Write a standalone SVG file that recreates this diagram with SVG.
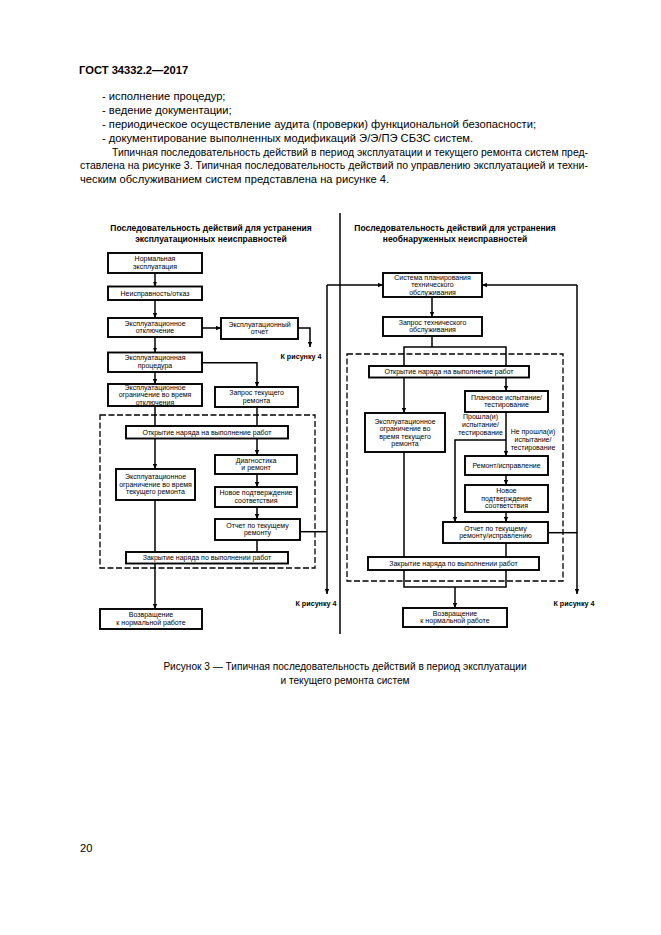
<svg xmlns="http://www.w3.org/2000/svg" width="661" height="935" viewBox="0 0 661 935">
<style>
.bg{fill:#fff}
.p{font-family:'Liberation Sans',Arial,sans-serif;font-size:11.2px;fill:#000}
.h{font-family:'Liberation Sans',Arial,sans-serif;font-size:11.2px;font-weight:bold;fill:#000}
.cap{font-family:'Liberation Sans',Arial,sans-serif;font-size:10.1px;fill:#000;text-anchor:middle}
.ti{font-family:'Liberation Sans',Arial,sans-serif;font-size:8.5px;font-weight:bold;fill:#000;text-anchor:middle}
.t{font-family:'Liberation Sans',Arial,sans-serif;font-size:7px;fill:#000;text-anchor:middle}
.k{font-family:'Liberation Sans',Arial,sans-serif;font-size:7.2px;font-weight:bold;fill:#000;text-anchor:middle}
.b{fill:#fff;stroke:#000;stroke-width:1.9}
.c{fill:none;stroke:#000;stroke-width:1.5}
.d{fill:none;stroke:#000;stroke-width:1.3;stroke-dasharray:6 2.5}
</style>
<defs>
<marker id="a" markerUnits="userSpaceOnUse" markerWidth="5" markerHeight="5" viewBox="0 0 6 6" refX="6" refY="3" orient="auto">
<path d="M0,0.4 L6,3 L0,5.6 z" fill="#000"/>
</marker>
</defs>
<rect class="bg" x="0" y="0" width="661" height="935"/>

<g id="page-text">
<text class="h" x="79" y="74">ГОСТ 34332.2—2017</text>
<text class="p" x="102" y="100">- исполнение процедур;</text>
<text class="p" x="102" y="114">- ведение документации;</text>
<text class="p" x="102" y="128">- периодическое осуществление аудита (проверки) функциональной безопасности;</text>
<text class="p" x="102" y="142">- документирование выполненных модификаций Э/Э/ПЭ СБЗС систем.</text>
<text class="p" x="112" y="155.5" textLength="476" lengthAdjust="spacingAndGlyphs">Типичная последовательность действий в период эксплуатации и текущего ремонта систем пред-</text>
<text class="p" x="80" y="169" textLength="508" lengthAdjust="spacingAndGlyphs">ставлена на рисунке 3. Типичная последовательность действий по управлению эксплуатацией и техни-</text>
<text class="p" x="80" y="182.5">ческим обслуживанием систем представлена на рисунке 4.</text>
<text class="cap" x="345" y="669.5">Рисунок 3 — Типичная последовательность действий в период эксплуатации</text>
<text class="cap" x="345" y="684">и текущего ремонта систем</text>
<text class="p" x="80" y="852">20</text>
</g>

<g id="titles">
<text class="ti" x="211" y="231">Последовательность действий для устранения</text>
<text class="ti" x="211" y="241.5">эксплуатационных неисправностей</text>
<text class="ti" x="455" y="231">Последовательность действий для устранения</text>
<text class="ti" x="455" y="241.5">необнаруженных неисправностей</text>
</g>

<g id="separator">
<path class="c" d="M340,213 V634"/>
</g>

<g id="dashed-frames">
<rect class="d" x="100" y="415" width="215" height="153"/>
<rect class="d" x="347" y="354" width="216" height="227"/>
</g>

<g id="connectors">
<path class="c" d="M155,273 V286.5" marker-end="url(#a)"/>
<path class="c" d="M155,300 V318" marker-end="url(#a)"/>
<path class="c" d="M155,337 V352.5" marker-end="url(#a)"/>
<path class="c" d="M155,372 V384" marker-end="url(#a)"/>
<path class="c" d="M202,328 H221" marker-end="url(#a)"/>
<path class="c" d="M298,328 H310 V347" marker-end="url(#a)"/>
<path class="c" d="M202,362.7 H257 V387" marker-end="url(#a)"/>
<path class="c" d="M155,406 V426"/>
<path class="c" d="M257,407 V426"/>
<path class="c" d="M155,438.5 V469" marker-end="url(#a)"/>
<path class="c" d="M257,438.5 V455" marker-end="url(#a)"/>
<path class="c" d="M257,474 V487" marker-end="url(#a)"/>
<path class="c" d="M257,507 V519" marker-end="url(#a)"/>
<path class="c" d="M257,540 V552"/>
<path class="c" d="M155,500 V552"/>
<path class="c" d="M300,531.7 H327"/>
<path class="c" d="M327,285 V594" marker-end="url(#a)"/>
<path class="c" d="M327,285 H383" marker-end="url(#a)"/>
<path class="c" d="M155,563.5 V609" marker-end="url(#a)"/>

<path class="c" d="M432,297 V317" marker-end="url(#a)"/>
<path class="c" d="M577,285 H482" marker-end="url(#a)"/>
<path class="c" d="M577,285 V594" marker-end="url(#a)"/>
<path class="c" d="M432,336 V347"/>
<path class="c" d="M404,366 V347 H506 V366"/>
<path class="c" d="M404,377.5 V413" marker-end="url(#a)"/>
<path class="c" d="M506,377.5 V391" marker-end="url(#a)"/>
<path class="c" d="M506,412 V456" marker-end="url(#a)"/>
<path class="c" d="M506,440 H455 V522" marker-end="url(#a)"/>
<path class="c" d="M506,475 V485" marker-end="url(#a)"/>
<path class="c" d="M506,512 V522" marker-end="url(#a)"/>
<path class="c" d="M548,532.7 H577"/>
<path class="c" d="M404,452 V587 H506 V543"/>
<path class="c" d="M455,587 V608" marker-end="url(#a)"/>
</g>

<g id="n-normal"><rect class="b" x="108" y="253" width="94" height="20"/>
<text class="t"><tspan x="155" y="261.2">Нормальная</tspan><tspan x="155" y="268.9">эксплуатация</tspan></text></g>
<g id="n-fault"><rect class="b" x="108" y="286.5" width="94" height="13.5"/>
<text class="t" x="155" y="295.7">Неисправность/отказ</text></g>
<g id="n-shutdown"><rect class="b" x="108" y="318" width="94" height="19"/>
<text class="t"><tspan x="155" y="325.7">Эксплуатационное</tspan><tspan x="155" y="333.4">отключение</tspan></text></g>
<g id="n-report1"><rect class="b" x="221" y="318" width="77" height="21"/>
<text class="t"><tspan x="259.5" y="326.7">Эксплуатационный</tspan><tspan x="259.5" y="334.4">отчет</tspan></text></g>
<text class="k" x="301" y="358.5">К рисунку 4</text>
<g id="n-procedure"><rect class="b" x="108" y="352.5" width="94" height="19.5"/>
<text class="t"><tspan x="155" y="360.4">Эксплуатационная</tspan><tspan x="155" y="368.1">процедура</tspan></text></g>
<g id="n-limit1"><rect class="b" x="108" y="384" width="94" height="22"/>
<text class="t"><tspan x="155" y="389.8">Эксплуатационное</tspan><tspan x="155" y="397.3">ограничение во время</tspan><tspan x="155" y="404.8">отключения</tspan></text></g>
<g id="n-repair-req"><rect class="b" x="215" y="387" width="83" height="20"/>
<text class="t"><tspan x="256.5" y="395.2">Запрос текущего</tspan><tspan x="256.5" y="402.9">ремонта</tspan></text></g>
<g id="n-open1"><rect class="b" x="126" y="426" width="162" height="12.5"/>
<text class="t" x="207" y="434.7">Открытие наряда на выполнение работ</text></g>
<g id="n-limit2"><rect class="b" x="116" y="469" width="79" height="31"/>
<text class="t"><tspan x="155.5" y="479.3">Эксплуатационное</tspan><tspan x="155.5" y="486.8">ограничение во время</tspan><tspan x="155.5" y="494.3">текущего ремонта</tspan></text></g>
<g id="n-diag"><rect class="b" x="215" y="455" width="82" height="19"/>
<text class="t"><tspan x="256" y="462.7">Диагностика</tspan><tspan x="256" y="470.4">и ремонт</tspan></text></g>
<g id="n-reval1"><rect class="b" x="215" y="487" width="82" height="20"/>
<text class="t"><tspan x="256" y="495.2">Новое подтверждение</tspan><tspan x="256" y="502.9">соответствия</tspan></text></g>
<g id="n-rep2"><rect class="b" x="215" y="519" width="85" height="21"/>
<text class="t"><tspan x="257.5" y="527.7">Отчет по текущему</tspan><tspan x="257.5" y="535.4">ремонту</tspan></text></g>
<g id="n-close1"><rect class="b" x="126" y="552" width="162" height="11.5"/>
<text class="t" x="207" y="560.2">Закрытие наряда по выполнении работ</text></g>
<text class="k" x="316" y="606">К рисунку 4</text>
<g id="n-return1"><rect class="b" x="100" y="609" width="102" height="20"/>
<text class="t"><tspan x="151" y="617.2">Возвращение</tspan><tspan x="151" y="624.9">к нормальной работе</tspan></text></g>

<g id="r-plan"><rect class="b" x="383" y="273" width="99" height="24"/>
<text class="t"><tspan x="432.5" y="279.8">Система планирования</tspan><tspan x="432.5" y="287.3">технического</tspan><tspan x="432.5" y="294.8">обслуживания</tspan></text></g>
<g id="r-req"><rect class="b" x="383" y="317" width="99" height="19"/>
<text class="t"><tspan x="432.5" y="324.7">Запрос технического</tspan><tspan x="432.5" y="332.4">обслуживания</tspan></text></g>
<g id="r-open"><rect class="b" x="369" y="366" width="160" height="11.5"/>
<text class="t" x="449" y="374.2">Открытие наряда на выполнение работ</text></g>
<g id="r-limit"><rect class="b" x="365" y="413" width="80" height="39"/>
<text class="t"><tspan x="405" y="423.6">Эксплуатационное</tspan><tspan x="405" y="431.1">ограничение во</tspan><tspan x="405" y="438.6">время текущего</tspan><tspan x="405" y="446.1">ремонта</tspan></text></g>
<g id="r-test"><rect class="b" x="465" y="391" width="83" height="21"/>
<text class="t"><tspan x="506.5" y="399.7">Плановое испытание/</tspan><tspan x="506.5" y="407.4">тестирование</tspan></text></g>
<text class="t"><tspan x="480.5" y="419">Прошла(и)</tspan><tspan x="480.5" y="426.7">испытание/</tspan><tspan x="480.5" y="434.5">тестирование</tspan></text>
<text class="t"><tspan x="533" y="434">Не прошла(и)</tspan><tspan x="533" y="441.7">испытание/</tspan><tspan x="533" y="449.5">тестирование</tspan></text>
<g id="r-fix"><rect class="b" x="465" y="456" width="83" height="19"/>
<text class="t" x="506.5" y="468">Ремонт/исправление</text></g>
<g id="r-reval"><rect class="b" x="465" y="485" width="83" height="27"/>
<text class="t"><tspan x="506.5" y="493.3">Новое</tspan><tspan x="506.5" y="500.8">подтверждение</tspan><tspan x="506.5" y="508.3">соответствия</tspan></text></g>
<g id="r-rep"><rect class="b" x="443" y="522" width="105" height="21"/>
<text class="t"><tspan x="495.5" y="530.7">Отчет по текущему</tspan><tspan x="495.5" y="538.4">ремонту/исправлению</tspan></text></g>
<g id="r-close"><rect class="b" x="368" y="557" width="171" height="13"/>
<text class="t" x="453.5" y="566">Закрытие наряда по выполнении работ</text></g>
<text class="k" x="574" y="606">К рисунку 4</text>
<g id="r-return"><rect class="b" x="403" y="608" width="104" height="19"/>
<text class="t"><tspan x="455" y="615.7">Возвращение</tspan><tspan x="455" y="623.4">к нормальной работе</tspan></text></g>
</svg>
